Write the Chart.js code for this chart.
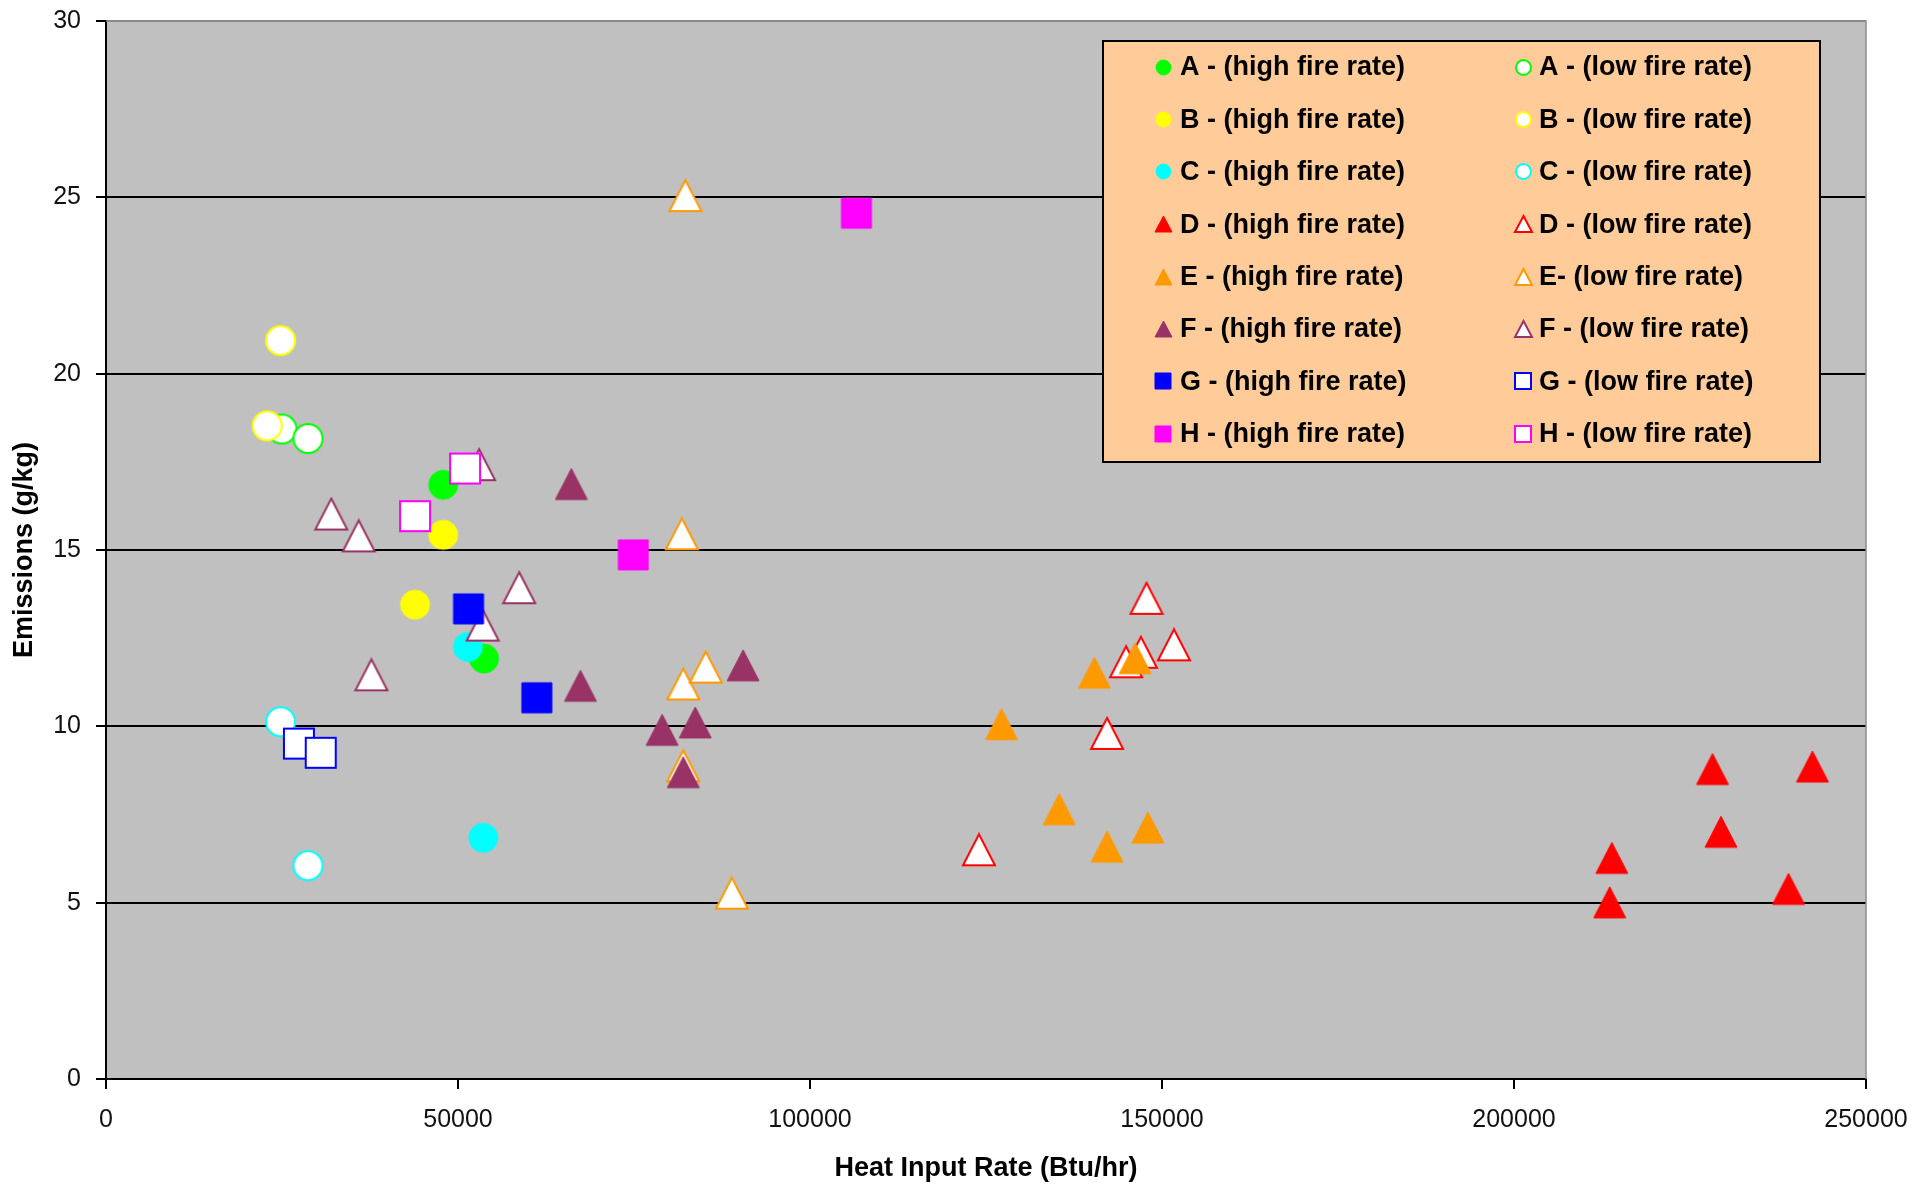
<!DOCTYPE html>
<html lang="en">
<head>
  <meta charset="UTF-8" />
  <title>Emissions vs Heat Input Rate</title>
  <script src="https://cdn.jsdelivr.net/npm/chart.js"></script>
  <style>
    html, body { margin: 0; padding: 0; background: #fff; }
    #wrap { width: 1927px; height: 1186px; }
  </style>
</head>
<body>
<div id="wrap"><canvas id="emissionsChart" width="1927" height="1186"></canvas></div>

<script>
  // [heat input (Btu/hr), emissions (g/kg)]
  const A_high = [[47900, 16.85], [53700, 11.92]];
  const A_low  = [[25000, 18.43], [28700, 18.16]];
  const B_high = [[47900, 15.43], [43900, 13.45]];
  const B_low  = [[24800, 20.94], [22900, 18.52]];
  const C_high = [[51400, 12.25], [53600, 6.84]];
  const C_low  = [[24800, 10.13], [28700, 6.05]];
  const D_high = [[213900, 6.27], [213600, 5.01], [228200, 8.79], [229400, 7.01], [239000, 5.39], [242400, 8.86]];
  const D_low  = [[124000, 6.50], [142200, 9.80], [147800, 13.63], [144900, 11.83], [147000, 12.10], [151700, 12.31]];
  const E_high = [[127200, 10.06], [140400, 11.52], [146200, 11.93], [135400, 7.65], [142200, 6.59], [148000, 7.13]];
  const E_low  = [[82300, 25.05], [81800, 15.46], [82000, 11.20], [85200, 11.68], [82000, 8.88], [88900, 5.27]];
  const F_high = [[66100, 16.87], [67400, 11.15], [79000, 9.90], [83700, 10.11], [82000, 8.70], [90500, 11.73]];
  const F_low  = [[32000, 16.02], [35900, 15.40], [37700, 11.46], [58700, 13.93], [53500, 12.87], [53000, 17.42]];
  const G_high = [[51500, 13.33], [61200, 10.81]];
  const G_low  = [[27400, 9.51], [30500, 9.25]];
  const H_high = [[106600, 24.55], [74900, 14.86]];
  const H_low  = [[43900, 15.96], [51000, 17.31]];

  const seriesLabels = [
    'A - (high fire rate)', 'A - (low fire rate)',
    'B - (high fire rate)', 'B - (low fire rate)',
    'C - (high fire rate)', 'C - (low fire rate)',
    'D - (high fire rate)', 'D - (low fire rate)',
    'E - (high fire rate)', 'E- (low fire rate)',
    'F - (high fire rate)', 'F - (low fire rate)',
    'G - (high fire rate)', 'G - (low fire rate)',
    'H - (high fire rate)', 'H - (low fire rate)'
  ];
  const seriesData = [A_high, A_low, B_high, B_low, C_high, C_low, D_high, D_low,
                      E_high, E_low, F_high, F_low, G_high, G_low, H_high, H_low];
  const letterColors = ['#00FF00', '#FFFF00', '#00FFFF', '#FF0000', '#FF9900', '#993366', '#0000FF', '#FF00FF'];
  const letterShapes = ['circle', 'circle', 'circle', 'triangle', 'triangle', 'triangle', 'square', 'square'];

  const xTicks = [0, 50000, 100000, 150000, 200000, 250000];
  const yTicks = [0, 5, 10, 15, 20, 25, 30];

  const FONT = '"Liberation Sans", Arial, sans-serif';

  // Excel-like markers, centred on their bounding box
  function makeMarker(shape, color, hollow, scale) {
    let w = shape === 'triangle' ? 34 : (shape === 'square' ? 32 : 31);
    let h = shape === 'triangle' ? 33 : w;
    w = Math.round(w * scale); h = Math.round(h * scale);
    const c = document.createElement('canvas');
    c.width = w + 2; c.height = h + 2;
    const g = c.getContext('2d');
    g.fillStyle = hollow ? '#fff' : color;
    g.strokeStyle = color;
    g.lineWidth = hollow ? 2 : 1;
    g.beginPath();
    if (shape === 'circle') {
      g.ellipse(1 + w / 2, 1 + h / 2, w / 2 - 1, h / 2 - 1, 0, 0, Math.PI * 2);
    } else if (shape === 'square') {
      g.rect(2, 2, w - 2, h - 2);
    } else {
      g.moveTo(1 + w / 2, 2);
      g.lineTo(w, h);
      g.lineTo(2, h);
      g.closePath();
    }
    g.fill();
    g.stroke();
    return c;
  }

  const bigMarkers = seriesLabels.map((_, i) =>
    makeMarker(letterShapes[i >> 1], letterColors[i >> 1], i % 2 === 1, 1));
  const smallMarkers = seriesLabels.map((_, i) =>
    makeMarker(letterShapes[i >> 1], letterColors[i >> 1], i % 2 === 1, 0.56));

  const datasets = seriesLabels.map((label, i) => ({
    label,
    data: seriesData[i].map(p => ({ x: p[0], y: p[1] })),
    pointStyle: bigMarkers[i],
    pointRadius: 15,
    showLine: false,
    order: seriesLabels.length - i
  }));

  const plotBackground = {
    id: 'plotBackground',
    beforeDraw(chart) {
      const { ctx, chartArea: a } = chart;
      ctx.save();
      ctx.fillStyle = '#C0C0C0';
      ctx.fillRect(a.left, a.top, a.right - a.left, a.bottom - a.top);
      ctx.restore();
    },
    beforeDatasetsDraw(chart) {
      const { ctx, chartArea: a } = chart;
      ctx.save();
      ctx.strokeStyle = '#8a8a8a';
      ctx.lineWidth = 1.5;
      ctx.beginPath();
      ctx.moveTo(a.left, a.top);
      ctx.lineTo(a.right, a.top);
      ctx.lineTo(a.right, a.bottom);
      ctx.stroke();
      ctx.restore();
    }
  };

  const boxLegend = {
    id: 'boxLegend',
    afterDatasetsDraw(chart) {
      const ctx = chart.ctx;
      const left = 1103, top = 41, width = 717, height = 421;
      ctx.save();
      ctx.fillStyle = '#FFCC99';
      ctx.fillRect(left, top, width, height);
      ctx.strokeStyle = '#000';
      ctx.lineWidth = 2;
      ctx.strokeRect(left, top, width, height);
      ctx.font = 'bold 27px ' + FONT;
      ctx.fillStyle = '#000';
      ctx.textBaseline = 'middle';
      ctx.textAlign = 'left';
      seriesLabels.forEach((label, i) => {
        const col = i % 2, row = i >> 1;
        const y = top + 26 + row * 52.4;
        const mx = left + (col ? 420 : 60);
        const m = smallMarkers[i];
        ctx.drawImage(m, Math.round(mx - m.width / 2), Math.round(y - m.height / 2));
        ctx.fillText(label, left + (col ? 436 : 77), y + 1);
      });
      ctx.restore();
    }
  };

  new Chart(document.getElementById('emissionsChart'), {
    type: 'scatter',
    data: { datasets },
    options: {
      responsive: false,
      animation: false,
      devicePixelRatio: 1,
      layout: { padding: { top: 21, right: 61, left: 0, bottom: 0 } },
      plugins: {
        legend: { display: false },
        tooltip: { enabled: false }
      },
      scales: {
        x: {
          type: 'linear',
          min: xTicks[0],
          max: xTicks[xTicks.length - 1],
          afterFit: s => { s.height = 107; },
          afterBuildTicks: s => { s.ticks = xTicks.map(v => ({ value: v })); },
          ticks: {
            padding: 16,
            maxRotation: 0,
            autoSkip: false,
            color: '#111',
            font: { family: FONT, size: 25 },
            callback: v => String(v)
          },
          grid: { drawOnChartArea: false, drawTicks: true, tickLength: 10, color: '#000', lineWidth: 2 },
          border: { display: true, color: '#000', width: 2 },
          title: {
            display: true,
            text: 'Heat Input Rate (Btu/hr)',
            color: '#000',
            font: { family: FONT, size: 27, weight: 'bold' },
            padding: { top: 0, bottom: 1 }
          }
        },
        y: {
          type: 'linear',
          min: yTicks[0],
          max: yTicks[yTicks.length - 1],
          afterFit: s => { s.width = 106; s.paddingTop = 0; s.paddingBottom = 0; },
          afterBuildTicks: s => { s.ticks = yTicks.map(v => ({ value: v })); },
          ticks: {
            padding: 15,
            color: '#111',
            font: { family: FONT, size: 25 },
            callback: v => String(v)
          },
          grid: {
            drawTicks: true,
            tickLength: 10,
            color: ctx => (ctx.tick && ctx.tick.value === 30 ? '#8a8a8a' : '#000'),
            tickColor: '#000',
            lineWidth: 2
          },
          border: { display: true, color: '#000', width: 2 },
          title: {
            display: true,
            text: 'Emissions (g/kg)',
            color: '#000',
            font: { family: FONT, size: 27, weight: 'bold' },
            padding: { top: 8, bottom: 0 }
          }
        }
      }
    },
    plugins: [plotBackground, boxLegend]
  });
</script>
</body>
</html>
